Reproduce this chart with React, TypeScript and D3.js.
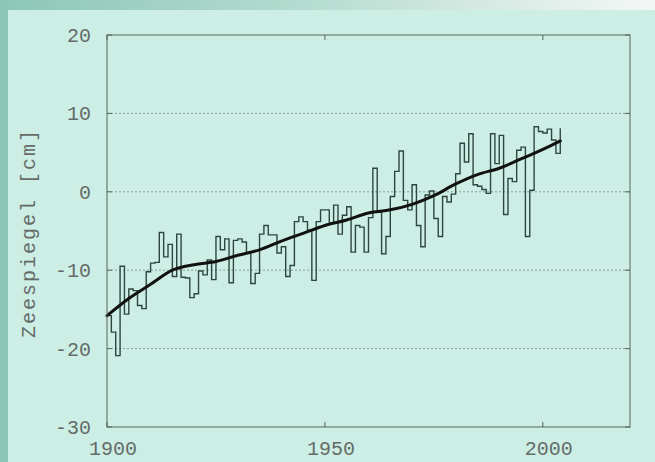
import React from "react";
import * as d3 from "d3";

// annual mean sea level (cm), 1900..2004
const startYear = 1900;
const levels = [
  -15.8, -17.9, -20.9, -9.5, -15.6, -12.4, -12.6, -14.5, -14.9, -10.2,
  -9.1, -9.0, -5.2, -8.3, -6.7, -10.8, -5.4, -10.9, -11.0, -13.5,
  -13.0, -10.1, -10.6, -8.7, -11.2, -5.7, -7.4, -6.0, -11.6, -6.2,
  -6.0, -6.4, -7.8, -11.7, -10.4, -5.4, -4.3, -5.5, -5.5, -7.8,
  -7.0, -10.8, -9.4, -3.8, -3.2, -3.8, -4.9, -11.3, -3.8, -2.3,
  -2.3, -4.0, -1.7, -5.4, -3.0, -1.9, -7.7, -4.3, -4.5, -7.7,
  -3.3, 3.0, -2.6, -7.9, -5.7, -0.6, 2.6, 5.2, -1.1, -2.3,
  0.9, -4.3, -7.0, -0.4, 0.1, -3.4, -5.7, -0.6, -1.3, -0.3,
  2.3, 6.2, 3.8, 7.4, 0.9, 0.7, 0.3, -0.2, 7.4, 3.6,
  7.2, -2.9, 1.7, 1.3, 5.3, 5.7, -5.7, 0.2, 8.3, 7.7,
  7.5, 8.0, 6.6, 4.9, 8.1,
];

// smoothed trend
const trendYears = [1900, 1905, 1910, 1915, 1920, 1925, 1930, 1935, 1940, 1945, 1950, 1955, 1960, 1965, 1970, 1975, 1980, 1985, 1990, 1995, 2000, 2004];
const trendValues = [-15.8, -13.6, -11.8, -10.0, -9.3, -8.9, -8.1, -7.4, -6.3, -5.3, -4.3, -3.6, -2.7, -2.3, -1.6, -0.5, 1.0, 2.2, 3.0, 4.2, 5.4, 6.5];

const xTicks = [1900, 1950, 2000];
const yTicks = [-30, -20, -10, 0, 10, 20];
const yGrid = [-20, -10, 0, 10];

const W = 655;
const H = 462;
const FONT = "'Liberation Mono', 'DejaVu Sans Mono', monospace";

export default function App() {
  const margin = { top: 35, right: 25, bottom: 35, left: 107 };
  const x = d3.scaleLinear().domain([1900, 2020]).range([margin.left, W - margin.right]);
  const y = d3.scaleLinear().domain([-30, 20]).range([H - margin.bottom, margin.top]);

  const steps = levels.map((v, i) => [startYear + i, v] as [number, number]);
  const stepPath = d3
    .line<[number, number]>()
    .x((d) => x(d[0]))
    .y((d) => y(d[1]))
    .curve(d3.curveStepAfter)(steps);

  const trend = trendYears.map((yr, i) => [yr, trendValues[i]] as [number, number]);
  const trendPath = d3
    .line<[number, number]>()
    .x((d) => x(d[0]))
    .y((d) => y(d[1]))
    .curve(d3.curveMonotoneX)(trend);

  const [x0, x1] = x.range();
  const [y0, y1] = y.range(); // y0 bottom, y1 top
  const axisColor = "#56655f";
  const textColor = "#646b68";

  return (
    <svg width={W} height={H} style={{ position: "absolute", left: 0, top: 0 }}>
      <defs>
        <linearGradient id="topband" x1="0" x2="1" y1="0" y2="0">
          <stop offset="0" stopColor="#8cc7b6" />
          <stop offset="0.45" stopColor="#b3dbcf" />
          <stop offset="1" stopColor="#f4f7f5" />
        </linearGradient>
      </defs>
      <rect x={0} y={0} width={W} height={H} fill="#cdeee5" />
      <rect x={0} y={0} width={W} height={10} fill="url(#topband)" />
      <rect x={0} y={0} width={8} height={H} fill="#8cc7b6" />

      {/* grid */}
      {yGrid.map((v) => (
        <line key={v} x1={x0} x2={x1} y1={y(v)} y2={y(v)} stroke="#8a9e97" strokeWidth={1} strokeDasharray="2,2" />
      ))}

      {/* ticks */}
      {yTicks.map((v) => (
        <g key={v}>
          <line x1={x0} x2={x0 + 5} y1={y(v)} y2={y(v)} stroke={axisColor} />
          <line x1={x1} x2={x1 - 5} y1={y(v)} y2={y(v)} stroke={axisColor} />
          <text x={91} y={y(v)} dy="0.35em" textAnchor="end" fontFamily={FONT} fontSize={20} fill={textColor}>
            {v}
          </text>
        </g>
      ))}
      {xTicks.map((v) => (
        <g key={v}>
          <line x1={x(v)} x2={x(v)} y1={y0} y2={y0 - 5} stroke={axisColor} />
          <line x1={x(v)} x2={x(v)} y1={y1} y2={y1 + 5} stroke={axisColor} />
          <text x={x(v) + 6} y={455} textAnchor="middle" fontFamily={FONT} fontSize={20} fill={textColor}>
            {v}
          </text>
        </g>
      ))}

      {/* data */}
      <path d={stepPath ?? ""} fill="none" stroke="#2f4640" strokeWidth={1.4} />
      <path d={trendPath ?? ""} fill="none" stroke="#111" strokeWidth={3} strokeLinecap="round" />

      {/* frame */}
      <rect x={x0} y={y1} width={x1 - x0} height={y0 - y1} fill="none" stroke={axisColor} strokeWidth={1} />

      <text
        transform={`translate(35,233) rotate(-90)`}
        textAnchor="middle"
        fontFamily={FONT}
        fontSize={20}
        letterSpacing={2}
        fill={textColor}
      >
        Zeespiegel [cm]
      </text>
    </svg>
  );
}
